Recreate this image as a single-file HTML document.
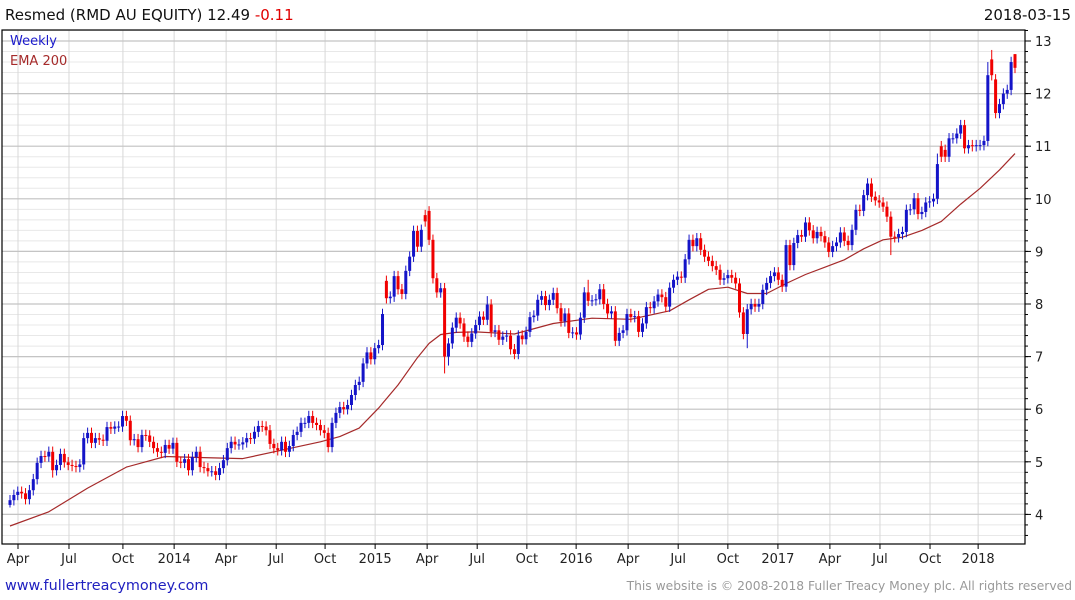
<!DOCTYPE html>
<html><head><meta charset="utf-8"><style>
body{margin:0;background:#fff;}
svg{display:block;font-family:"DejaVu Sans","Liberation Sans",sans-serif;}
</style></head><body>
<svg id="chart" width="1075" height="600" viewBox="0 0 1075 600">
<rect x="0" y="0" width="1075" height="600" fill="#fff"/>
<g id="grid"></g>
<g id="ema"></g>
<g id="candles"></g>
<rect x="2" y="30" width="1023" height="514" fill="none" stroke="#000" stroke-width="1.2"/>
<g id="axes"></g>
<text x="5" y="20" font-size="15" fill="#111">Resmed (RMD AU EQUITY) 12.49 <tspan fill="#e00000">-0.11</tspan></text>
<text x="1071" y="20" font-size="15" fill="#111" text-anchor="end">2018-03-15</text>
<text x="10" y="45" font-size="13" fill="#1a1acc">Weekly</text>
<text x="10" y="65" font-size="13" fill="#a52a2a">EMA 200</text>
<text x="5" y="590" font-size="14.4" fill="#2020c0">www.fullertreacymoney.com</text>
<text x="1072" y="590" font-size="12.3" fill="#999" text-anchor="end">This website is © 2008-2018 Fuller Treacy Money plc. All rights reserved</text>
</svg>
<script>
const closes = [
4.27,4.37,4.43,4.40,4.29,4.46,4.67,4.98,5.11,5.10,
5.19,4.84,4.94,5.15,4.99,4.94,4.92,4.90,4.95,5.45,
5.55,5.36,5.45,5.42,5.40,5.66,5.63,5.67,5.67,5.87,
5.78,5.41,5.43,5.28,5.51,5.50,5.38,5.26,5.19,5.17,
5.32,5.25,5.36,5.00,4.98,5.05,4.84,5.09,5.19,4.90,
4.88,4.82,4.82,4.75,4.88,5.03,5.26,5.38,5.33,5.33,
5.37,5.45,5.44,5.57,5.68,5.67,5.60,5.34,5.26,5.22,
5.38,5.19,5.30,5.51,5.57,5.74,5.74,5.87,5.74,5.70,
5.60,5.55,5.28,5.74,5.93,6.04,6.00,6.08,6.27,6.46,
6.52,
6.87,7.08,6.95,7.16,7.22,7.81,8.11,8.14,8.53,8.28,
8.19,8.63,8.90,9.39,9.09,9.41,9.57,9.22,8.49,8.22,
8.30,7.00,7.25,7.55,7.74,7.63,7.38,7.28,7.44,7.60,
7.76,7.70,7.99,7.47,7.50,7.32,7.38,7.40,7.14,7.05,
7.40,7.33,7.47,7.75,7.78,8.08,8.15,7.98,8.08,8.21,
7.92,7.67,7.82,7.45,7.46,7.42,7.74,8.22,8.06,8.07,
8.09,8.28,8.00,7.82,7.86,7.30,7.45,7.50,7.81,7.75,
7.77,7.47,7.63,7.94,7.92,8.05,8.18,8.13,7.95,8.31,
8.46,8.52,8.50,8.85,9.22,9.10,9.25,9.03,8.90,8.82,
8.72,8.65,8.46,8.49,8.55,8.50,8.39,7.84,7.43,7.90,
8.00,7.95,8.00,8.27,8.40,8.53,8.60,8.46,8.33,9.12,
8.74,9.16,9.31,9.28,9.55,9.40,9.25,9.37,9.29,9.17,
8.99,9.10,9.17,9.36,9.20,9.12,9.41,9.79,9.77,10.07,
10.29,10.04,9.97,9.93,9.85,9.66,9.28,9.27,9.33,9.37,
9.79,9.80,10.01,9.71,9.75,9.93,9.95,10.00,10.66,10.80,
10.80,11.15,11.15,11.24,11.40,10.96,11.02,11.00,11.02,11.02,
11.10,12.35,12.35,11.63,11.80,12.00,12.07,12.60,12.49];
const firstOpen = 4.18;
const openGapIdx = [97,107,108,240,241,253,254,259];
const openGapVal = [8.44,9.69,9.77,11.00,10.93,12.65,12.27,12.75];
const wickHighIdx = [108,123,149,239,252,253,259];
const wickHighVal = [9.86,8.15,8.46,10.86,12.60,12.83,12.75];
const wickLowIdx = [112,113,190,227,0,11];
const wickLowVal = [6.68,6.83,7.16,8.93,4.13,4.70];
const emaIdx = [0,10,20,30,40,50,60,70,80,85,90,95,100,105,108,111,115,120,130,140,150,160,170,175,180,185,190,195,200,205,210,215,220,225,230,235,240,245,250,255,259];
const emaVals = [3.78,4.05,4.50,4.90,5.10,5.08,5.06,5.22,5.38,5.48,5.64,6.02,6.46,6.98,7.25,7.42,7.46,7.47,7.43,7.63,7.73,7.71,7.87,8.08,8.28,8.32,8.20,8.20,8.39,8.56,8.70,8.84,9.05,9.22,9.27,9.40,9.57,9.90,10.20,10.55,10.86];
const yTicks = [4,5,6,7,8,9,10,11,12,13];
const xTickLabels = ["Apr","Jul","Oct","2014","Apr","Jul","Oct","2015","Apr","Jul","Oct","2016","Apr","Jul","Oct","2017","Apr","Jul","Oct","2018"];
const xTickWeeks = [2.06,15.2,29.1,42.3,55.7,68.6,81.2,94.1,107.5,120.4,133.2,145.9,159.3,172.2,185.0,197.9,211.3,224.2,237.1,249.5];

const NS="http://www.w3.org/2000/svg";
const N=closes.length;
const X0=10,X1=1015,L=2,R=1025,T=30,B=544;
function xS(i){return X0+i*(X1-X0)/(N-1);}
function yS(v){return 41+(13-v)*52.6;}
function mk(tag,attrs,parent){const e=document.createElementNS(NS,tag);for(const k in attrs)e.setAttribute(k,attrs[k]);parent.appendChild(e);return e;}
const grid=document.getElementById('grid'),axes=document.getElementById('axes'),cg=document.getElementById('candles'),eg=document.getElementById('ema');

for(let v=3.6;v<=13.21;v+=0.2){const y=yS(v);if(y<T||y>B)continue;
 const ln=mk('line',{x1:L,x2:R,y1:y,y2:y,stroke:'#e8e8e8','stroke-width':1},grid);
 
 
 const tk=mk('line',{x1:R,x2:R+3,y1:y,y2:y,stroke:'#000','stroke-width':1},axes);
 
 
}
xTickWeeks.forEach((w,k)=>{const x=xS(w);
 const ln=mk('line',{x1:x,x2:x,y1:T,y2:B,stroke:'#d8d8d8','stroke-width':1},grid);
 
 
 const tk=mk('line',{x1:x,x2:x,y1:B,y2:B+5,stroke:'#000','stroke-width':1},axes);
 
 
 const t=mk('text',{x:x,y:563,'font-size':13,fill:'#222','text-anchor':'middle'},axes);
 t.textContent=xTickLabels[k];
 
 
});
yTicks.forEach(v=>{const y=yS(v);
 const ln=mk('line',{x1:L,x2:R,y1:y,y2:y,stroke:'#c4c4c4','stroke-width':1.2},grid);
 
 
 const tk=mk('line',{x1:R,x2:R+6,y1:y,y2:y,stroke:'#000','stroke-width':1},axes);
 
 
 const t=mk('text',{x:1035,y:y+5,'font-size':13,fill:'#222'},axes);
 t.textContent=String(v);
 
 
});
const pts=emaIdx.map((i,k)=>xS(i).toFixed(1)+','+yS(emaVals[k]).toFixed(1)).join(' ');
const pl=mk('polyline',{points:pts,fill:'none',stroke:'#a52a2a','stroke-width':1.2,'stroke-linejoin':'round'},eg);


for(let i=0;i<N;i++){
 let o=i===0?firstOpen:closes[i-1];
 const gi=openGapIdx.indexOf(i);if(gi>=0)o=openGapVal[gi];
 const c=closes[i];
 let hi=Math.max(o,c)+0.1,lo=Math.min(o,c)-0.1;
 const hk=wickHighIdx.indexOf(i);if(hk>=0)hi=wickHighVal[hk];
 const lk=wickLowIdx.indexOf(i);if(lk>=0)lo=wickLowVal[lk];
 const col=c>=o?'#1414c8':'#f00000';
 const x=xS(i);
 const g=mk('g',{},cg);
 
 
 mk('line',{x1:x,x2:x,y1:yS(hi),y2:yS(lo),stroke:col,'stroke-width':1},g);
 const yt=yS(Math.max(o,c)),yb=yS(Math.min(o,c));
 mk('rect',{x:x-1.5,y:yt,width:3,height:Math.max(1,yb-yt),fill:col},g);
}
</script>
</body></html>
